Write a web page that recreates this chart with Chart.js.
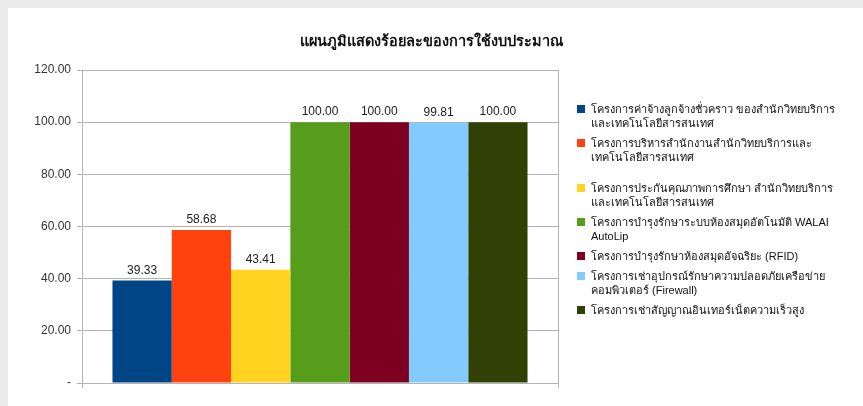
<!DOCTYPE html>
<html>
<head>
<meta charset="utf-8">
<script src="https://cdn.jsdelivr.net/npm/chart.js@4"></script>
<style>
  html, body { margin: 0; padding: 0; background: #fff; }
  #wrap {
    position: relative; width: 863px; height: 406px; overflow: hidden;
    background: #fff;
    border-left: 8px solid #ececec; border-top: 8px solid #ececec;
    box-sizing: border-box;
  }
  #myChart { position: absolute; left: -8px; top: -8px; }
  #legend {
    position: absolute; left: 569px; top: 94px;
    font-family: "Liberation Sans", "DejaVu Sans", sans-serif;
    font-size: 11px; color: #111; line-height: 14px;
  }
  .item { position: relative; padding-left: 14px; margin-bottom: 6px; white-space: pre-line; }
  .item.gap { margin-bottom: 17px; }
  .box { position: absolute; left: 0; top: 3px; width: 8px; height: 8px; }
</style>
</head>
<body>
<div id="wrap">
  <canvas id="myChart" width="863" height="406"></canvas>
  <div id="legend"></div>
</div>
<script>
const chartTitle = "แผนภูมิแสดงร้อยละของการใช้งบประมาณ";
const categories = [""];
const seriesLabels = [
    "โครงการค่าจ้างลูกจ้างชั่วคราว ของสำนักวิทยบริการ\nและเทคโนโลยีสารสนเทศ",
    "โครงการบริหารสำนักงานสำนักวิทยบริการและ\nเทคโนโลยีสารสนเทศ",
    "โครงการประกันคุณภาพการศึกษา สำนักวิทยบริการ\nและเทคโนโลยีสารสนเทศ",
    "โครงการบำรุงรักษาระบบห้องสมุดอัตโนมัติ WALAI\nAutoLip",
    "โครงการบำรุงรักษาห้องสมุดอัจฉริยะ (RFID)",
    "โครงการเช่าอุปกรณ์รักษาความปลอดภัยเครือข่าย\nคอมพิวเตอร์ (Firewall)",
    "โครงการเช่าสัญญาณอินเทอร์เน็ตความเร็วสูง"
];
const seriesValues = [39.33, 58.68, 43.41, 100.00, 100.00, 99.81, 100.00];
const seriesColors = ["#004586", "#ff420e", "#ffd320", "#579d1c", "#7e0021", "#83caff", "#314004"];
const yMin = 0, yMax = 120, yStep = 20;

const gridColor = "#b3b3b3";

// values above bars
const valueLabels = {
    id: "valueLabels",
    afterDatasetsDraw(chart) {
        const ctx = chart.ctx;
        ctx.save();
        ctx.font = '12px "Liberation Sans", sans-serif';
        ctx.fillStyle = "#222";
        ctx.textAlign = "center";
        ctx.textBaseline = "middle";
        chart.data.datasets.forEach((ds, i) => {
            chart.getDatasetMeta(i).data.forEach((bar, j) => {
                ctx.fillText(ds.data[j].toFixed(2), bar.x, bar.y - 10);
            });
        });
        ctx.restore();
    }
};

// title centred on the whole canvas, not just the plot
const pageTitle = {
    id: "pageTitle",
    afterDraw(chart) {
        const ctx = chart.ctx;
        ctx.save();
        ctx.font = 'bold 14.5px "Liberation Sans", sans-serif';
        ctx.fillStyle = "#111";
        ctx.textAlign = "center";
        ctx.textBaseline = "middle";
        ctx.fillText(chartTitle, chart.width / 2, 42);
        ctx.restore();
    }
};

const chart = new Chart("myChart", {
    type: "bar",
    plugins: [valueLabels, pageTitle],
    data: {
        labels: categories,
        datasets: seriesLabels.map((label, i) => ({
            label: label,
            data: [seriesValues[i]],
            backgroundColor: seriesColors[i],
            borderWidth: 0,
            barPercentage: 1,
            categoryPercentage: 0.872
        }))
    },
    options: {
        responsive: false,
        animation: false,
        layout: {
            padding: { left: 0, right: 305, top: 70, bottom: 0 }
        },
        plugins: {
            legend: { display: false },
            tooltip: { enabled: false },
            title: { display: false }
        },
        scales: {
            x: {
                ticks: { display: false },
                grid: { color: gridColor, drawOnChartArea: true, tickLength: 5 },
                border: { color: gridColor },
                afterFit(scale) { scale.height = 23; }
            },
            y: {
                min: yMin,
                max: yMax,
                ticks: {
                    stepSize: yStep,
                    padding: 6,
                    color: "#333",
                    font: { family: '"Liberation Sans", sans-serif', size: 12 },
                    callback: v => v === 0 ? "-" : v.toFixed(2)
                },
                grid: { color: gridColor, tickLength: 5 },
                border: { color: gridColor },
                afterFit(scale) { scale.width = 82; }
            }
        }
    }
});

// legend as html so the long Thai labels can wrap like the original
const legendEl = document.getElementById("legend");
seriesLabels.forEach((label, i) => {
    const item = document.createElement("div");
    item.className = i === 1 ? "item gap" : "item";
    const box = document.createElement("span");
    box.className = "box";
    box.style.background = seriesColors[i];
    item.appendChild(box);
    item.appendChild(document.createTextNode(label));
    legendEl.appendChild(item);
});
</script>
</body>
</html>
